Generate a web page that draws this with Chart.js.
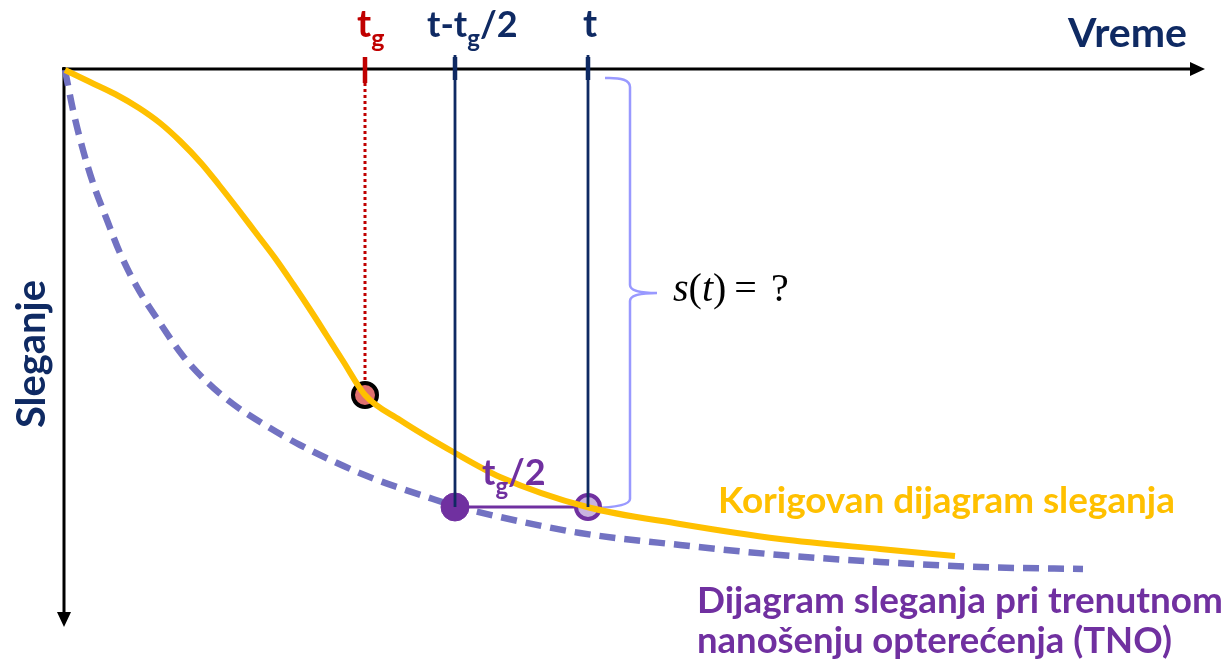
<!DOCTYPE html>
<html>
<head>
<meta charset="utf-8">
<script src="https://cdn.jsdelivr.net/npm/chart.js@4.4.1/dist/chart.umd.min.js"></script>
<style>
  html,body{margin:0;padding:0;background:#fff;}
  #wrap{width:1231px;height:665px;position:relative;}
</style>
</head>
<body>
<div id="wrap"><canvas id="c"></canvas></div>
<script>
// corrected settlement curve (time, settlement)
const corrT = [0, 0.25, 0.50, 0.74, 0.95, 1.15, 1.36, 1.54, 1.72, 1.91, 2.10, 2.28, 2.46, 2.62, 2.78, 3.00, 3.35, 3.90, 4.35, 5.22, 6.15, 7.15, 8.15, 8.90];
const corrS = [0, 0.12, 0.24, 0.38, 0.53, 0.71, 0.93, 1.15, 1.38, 1.63, 1.88, 2.14, 2.41, 2.66, 2.91, 3.25, 3.50, 3.83, 4.07, 4.37, 4.54, 4.69, 4.79, 4.86];

// instantaneous loading curve (TNO), dashed
const tnoT = [0, 0.08, 0.18, 0.28, 0.42, 0.55, 0.72, 0.95, 1.18, 1.42, 1.68, 2.05, 2.35, 3.02, 3.68, 3.90, 4.35, 5.15, 6.15, 7.15, 8.15, 9.15, 10.18];
const tnoS = [0, 0.40, 0.80, 1.13, 1.50, 1.83, 2.17, 2.53, 2.86, 3.12, 3.34, 3.58, 3.75, 4.06, 4.29, 4.36, 4.47, 4.63, 4.75, 4.85, 4.92, 4.97, 4.99];

// marked times on the time axis and their settlements
const markT = [3.00, 3.90, 5.23];   // tg, t - tg/2, t
const markS = [3.25, 4.37, 4.37];

const NAVY = "#0f2a63", RED = "#c00000", YEL = "#ffc000", PURP = "#7030a0";

const pts = (xs, ys) => xs.map((x,i) => ({x:x, y:ys[i]}));
const vline = (t, s0, s1) => [{x:t, y:s0}, {x:t, y:s1}];

function fitFont(ctx, text, w, weight, family, base){
  ctx.font = `${weight} ${base}px ${family}`;
  const m = ctx.measureText(text).width;
  const px = base * w / m;
  ctx.font = `${weight} ${px}px ${family}`;
  return px;
}

const deco = {
  id: "deco",
  beforeDatasetsDraw(chart){
    const ctx = chart.ctx, X = chart.scales.x, Y = chart.scales.y;
    const px = v => X.getPixelForValue(v), py = v => Y.getPixelForValue(v);
    ctx.save();
    // axes with arrow heads
    ctx.strokeStyle = "#000"; ctx.fillStyle = "#000"; ctx.lineWidth = 3;
    ctx.beginPath();
    ctx.moveTo(px(-0.03), py(-0.01)); ctx.lineTo(px(11.28), py(-0.01));
    ctx.moveTo(px(-0.01), py(-0.03)); ctx.lineTo(px(-0.01), py(5.45));
    ctx.stroke();
    ctx.beginPath();
    ctx.moveTo(px(11.40), py(-0.01));
    ctx.lineTo(px(11.25), py(-0.08)); ctx.lineTo(px(11.25), py(0.06)); ctx.closePath();
    ctx.fill();
    ctx.beginPath();
    ctx.moveTo(px(-0.01), py(5.57));
    ctx.lineTo(px(-0.08), py(5.42)); ctx.lineTo(px(0.06), py(5.42)); ctx.closePath();
    ctx.fill();

    // curly brace for s(t)
    const bx = px(5.65), tip = px(5.92), top = py(0.09), bot = py(4.35), mid = py(2.23);
    const hx = px(5.40);
    ctx.strokeStyle = "#9999ff"; ctx.lineWidth = 2.5;
    ctx.beginPath();
    ctx.moveTo(hx, top - 1);
    ctx.quadraticCurveTo(bx, top - 2, bx, top + 8);
    ctx.lineTo(bx, mid - 8);
    ctx.quadraticCurveTo(bx, mid, tip, mid);
    ctx.quadraticCurveTo(bx, mid, bx, mid + 8);
    ctx.lineTo(bx, bot - 6);
    ctx.quadraticCurveTo(bx, bot + 2, hx - 12, bot + 3);
    ctx.stroke();
    ctx.restore();
  },
  afterDatasetsDraw(chart){
    const ctx = chart.ctx, X = chart.scales.x, Y = chart.scales.y;
    const px = v => X.getPixelForValue(v), py = v => Y.getPixelForValue(v);
    const F = "Lato, 'Open Sans', sans-serif";
    ctx.save();
    ctx.textBaseline = "alphabetic"; ctx.textAlign = "left";

    // tick labels above the time axis: text with subscript g
    function subLabel(parts, x, y, color, big, small){
      ctx.fillStyle = color;
      let cx = x;
      parts.forEach(p => {
        ctx.font = `bold ${p.sub ? small : big}px ${F}`;
        ctx.fillText(p.s, cx, p.sub ? y + 10 : y);
        cx += ctx.measureText(p.s).width;
      });
    }
    subLabel([{s:"t"},{s:"g",sub:true}], px(2.92), py(-0.33), RED, 38, 25);
    subLabel([{s:"t-t"},{s:"g",sub:true},{s:"/2"}], px(3.62), py(-0.33), NAVY, 36, 24);
    subLabel([{s:"t"}], px(5.18), py(-0.33), NAVY, 38, 25);
    subLabel([{s:"t"},{s:"g",sub:true},{s:"/2"}], px(4.17), py(4.15), PURP, 36, 24);

    // axis names
    ctx.fillStyle = NAVY;
    fitFont(ctx, "Vreme", 119, "bold", F, 40);
    ctx.fillText("Vreme", px(10.03), py(-0.23));
    ctx.save();
    ctx.translate(px(-0.20), py(2.84));
    ctx.rotate(-Math.PI/2);
    ctx.textAlign = "center";
    fitFont(ctx, "Sleganje", 148, "bold", F, 40);
    ctx.fillText("Sleganje", 0, 0);
    ctx.restore();

    // s(t) = ?
    ctx.fillStyle = "#000";
    let sx = px(6.08); const sy = py(2.31);
    const seg = [["s","italic "],["(",""],["t","italic "],[")",""],["\u2009=\u2009",""],["?",""]];
    seg.forEach(([s, st]) => {
      ctx.font = `${st}40px 'Liberation Serif', 'DejaVu Serif', serif`;
      ctx.fillText(s, sx, sy);
      sx += ctx.measureText(s).width + (s.includes("=") ? 6 : 0);
    });

    // curve captions
    ctx.fillStyle = YEL;
    fitFont(ctx, "Korigovan dijagram sleganja", 457, "bold", F, 36);
    ctx.fillText("Korigovan dijagram sleganja", px(6.53), py(4.43));
    ctx.fillStyle = PURP;
    fitFont(ctx, "Dijagram sleganja pri trenutnom", 526, "bold", F, 36);
    ctx.fillText("Dijagram sleganja pri trenutnom", px(6.32), py(5.43));
    fitFont(ctx, "nanošenju opterećenja (TNO)", 475, "bold", F, 36);
    ctx.fillText("nanošenju opterećenja (TNO)", px(6.32), py(5.83));
    ctx.restore();
  }
};

const line = (data, color, width, extra) => Object.assign({
  data: data, borderColor: color, borderWidth: width, pointRadius: 0,
  fill: false, tension: 0
}, extra || {});

new Chart(document.getElementById("c"), {
  type: "line",
  data: {
    datasets: [
      // vertical guides at t - tg/2 and t, with thick tick marks on the axis
      line(vline(markT[1], -0.15, markS[1]), NAVY, 2.8, {order: 0}),
      line(vline(markT[2], -0.15, markS[2]), NAVY, 2.8, {order: 0}),
      line(vline(markT[1], -0.13, 0.10), NAVY, 4.5, {order: 0}),
      line(vline(markT[2], -0.13, 0.10), NAVY, 4.5, {order: 0}),
      line(vline(markT[0], -0.13, 0.13), RED, 4.5, {order: 0}),
      // corrected curve
      line(pts(corrT, corrS), YEL, 6, {order: 1, cubicInterpolationMode: "monotone"}),
      // tg marker
      {data: [{x: markT[0], y: markS[0]}], showLine: false, pointRadius: 12,
       pointBackgroundColor: "#e07070", pointBorderColor: "#000", pointBorderWidth: 4, order: 2},
      // dotted red guide down from tg
      line(vline(markT[0], 0.13, markS[0]), RED, 3, {borderDash: [3, 3], order: 3}),
      // open circle at t
      {data: [{x: markT[2], y: markS[2]}], showLine: false, pointRadius: 12,
       pointBackgroundColor: "#c9b3e0", pointBorderColor: PURP, pointBorderWidth: 4, order: 2},
      // tg/2 connector
      line(pts([markT[1], markT[2]], [markS[1], markS[2]]), PURP, 3, {order: 3}),
      // filled dot at t - tg/2
      {data: [{x: markT[1], y: markS[1]}], showLine: false, pointRadius: 14,
       pointBackgroundColor: PURP, pointBorderColor: PURP, pointBorderWidth: 1, order: 2},
      // instantaneous loading curve
      line(pts(tnoT, tnoS), "#7272c2", 6.5, {order: 5, borderDash: [16, 9], cubicInterpolationMode: "monotone"})
    ]
  },
  options: {
    responsive: true,
    maintainAspectRatio: false,
    animation: false,
    layout: {padding: 0, autoPadding: false},
    plugins: {legend: {display: false}, tooltip: {enabled: false}},
    scales: {
      x: {type: "linear", min: -0.65, max: 11.66, display: false},
      y: {type: "linear", min: -0.70, max: 5.95, reverse: true, display: false}
    }
  },
  plugins: [deco]
});
</script>
</body>
</html>
